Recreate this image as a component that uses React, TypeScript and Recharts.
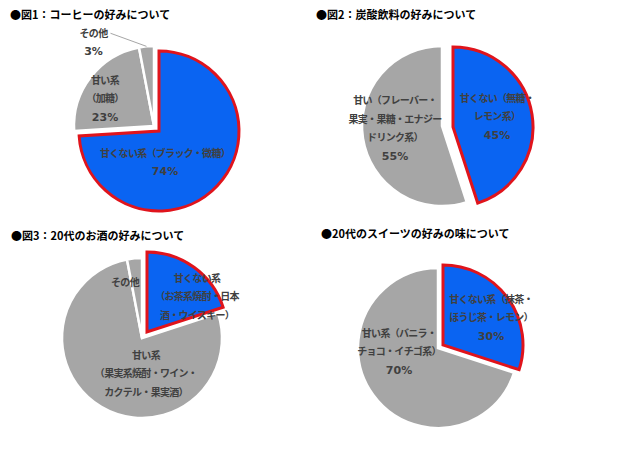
import React from "react";
import { PieChart, Pie, Cell } from "recharts";

const BLUE = "#0a64f2";
const RED = "#e0141c";
const GRAY = "#a6a6a6";
const INK = "#404040";

// 図1 coffee
const coffeeNames = ["甘くない系（ブラック・微糖）", "甘い系（加糖）", "その他"];
const coffeeValues = [74, 23, 3];
const coffeeLabels = [["甘くない系（ブラック・微糖）"], ["甘い系", "（加糖）"], ["その他"]];

// 図2 soda
const sodaNames = ["甘くない（無糖・レモン系）", "甘い（フレーバー・果実・果糖・エナジードリンク系）"];
const sodaValues = [45, 55];
const sodaLabels = [
  ["甘くない（無糖・", "レモン系）"],
  ["甘い（フレーバー・", "果実・果糖・エナジー", "ドリンク系）"],
];

// 図3 alcohol
const sakeNames = [
  "甘くない系（お茶系焼酎・日本酒・ウイスキー）",
  "甘い系（果実系焼酎・ワイン・カクテル・果実酒）",
  "その他",
];
const sakeValues = [20, 77, 3];
const sakeLabels = [
  ["甘くない系", "（お茶系焼酎・日本", "酒・ウイスキー）"],
  ["甘い系", "（果実系焼酎・ワイン・", "カクテル・果実酒）"],
  ["その他"],
];

// sweets
const sweetsNames = ["甘くない系（抹茶・ほうじ茶・レモン）", "甘い系（バニラ・チョコ・イチゴ系）"];
const sweetsValues = [30, 70];
const sweetsLabels = [
  ["甘くない系（抹茶・", "ほうじ茶・レモン）"],
  ["甘い系（バニラ・", "チョコ・イチゴ系）"],
];

const RADIAN = Math.PI / 180;
const LINE_H = 18.5;
const labelFont = "'DejaVu Sans', 'Noto Sans CJK JP', sans-serif";

interface PanelProps {
  title: string;
  names: string[];
  values: number[];
  labels: string[][];
  showPercent: boolean;
  left: number;
  top: number;
  titleX: number;
  titleY: number;
  blueCenter: [number, number];
  grayCenter: [number, number];
  labelOffsets: [number, number][];
  leaderIndex?: number;
}

function makeLabel(layer: "blue" | "gray", p: PanelProps) {
  return (props: any) => {
    const { index, cx, cy, value, midAngle, outerRadius } = props;
    const isBlue = index === 0;
    if ((layer === "blue") !== isBlue) return null;
    const [dx, dy] = p.labelOffsets[index];
    const lines = [...p.labels[index]];
    if (p.showPercent) lines.push(`${value}%`);
    const x = cx + dx;
    const y0 = cy + dy - ((lines.length - 1) * LINE_H) / 2;
    let leader = null;
    if (p.leaderIndex === index) {
      const ex = cx + outerRadius * Math.cos(-midAngle * RADIAN);
      const ey = cy + outerRadius * Math.sin(-midAngle * RADIAN);
      leader = <line x1={x + 17} y1={y0} x2={ex} y2={ey} stroke={GRAY} strokeWidth={1} />;
    }
    return (
      <g key={`lbl-${layer}-${index}`}>
        {leader}
        {lines.map((l, i) => {
          const isPct = l.endsWith("%");
          return (
            <text
              key={i}
              x={x}
              y={y0 + i * LINE_H}
              textAnchor="middle"
              dominantBaseline="central"
              fill={INK}
              fontFamily={labelFont}
              fontSize={isPct ? 11 : 10}
              fontWeight="bold"
              letterSpacing={isPct ? 0 : -0.7}
            >
              {l}
            </text>
          );
        })}
      </g>
    );
  };
}

function Panel(p: PanelProps) {
  const data = p.names.map((name, i) => ({ name, value: p.values[i] }));
  return (
    <div style={{ position: "absolute", left: p.left, top: p.top, width: 320, height: 228 }}>
      <PieChart width={320} height={228} margin={{ top: 0, right: 0, bottom: 0, left: 0 }}>
        {/* gray slices */}
        <Pie
          data={data}
          dataKey="value"
          nameKey="name"
          cx={p.grayCenter[0]}
          cy={p.grayCenter[1]}
          outerRadius={80}
          startAngle={90}
          endAngle={-270}
          isAnimationActive={false}
          labelLine={false}
          label={makeLabel("gray", p)}
        >
          {data.map((d, i) => (
            <Cell
              key={d.name}
              fill={i === 0 ? "none" : GRAY}
              stroke={i === 0 ? "none" : "#ffffff"}
              strokeWidth={i === 0 ? 0 : 2.5}
            />
          ))}
        </Pie>
        {/* highlighted slice, pulled out */}
        <Pie
          data={data}
          dataKey="value"
          nameKey="name"
          cx={p.blueCenter[0]}
          cy={p.blueCenter[1]}
          outerRadius={80}
          startAngle={90}
          endAngle={-270}
          isAnimationActive={false}
          labelLine={false}
          label={makeLabel("blue", p)}
        >
          {data.map((d, i) => (
            <Cell
              key={d.name}
              fill={i === 0 ? BLUE : "none"}
              stroke={i === 0 ? RED : "none"}
              strokeWidth={i === 0 ? 3 : 0}
            />
          ))}
        </Pie>
      </PieChart>
      <div
        style={{
          position: "absolute",
          left: p.titleX,
          top: p.titleY,
          fontFamily: "'Noto Sans CJK JP', sans-serif",
          fontSize: 11,
          fontWeight: "bold",
          lineHeight: "12px",
          color: "#000",
          whiteSpace: "nowrap",
        }}
      >
        {p.title}
      </div>
    </div>
  );
}

export default function App() {
  return (
    <div
      style={{
        position: "absolute",
        left: 0,
        top: 0,
        width: 640,
        height: 456,
        background: "#fff",
        overflow: "hidden",
      }}
    >
      <Panel
        title="●図1：コーヒーの好みについて"
        names={coffeeNames}
        values={coffeeValues}
        labels={coffeeLabels}
        showPercent
        left={0}
        top={0}
        titleX={10}
        titleY={8}
        blueCenter={[159, 131]}
        grayCenter={[154, 126]}
        labelOffsets={[
          [6, 31.5],
          [-49, -27.5],
          [-60.5, -83.5],
        ]}
        leaderIndex={2}
      />
      <Panel
        title="●図2：炭酸飲料の好みについて"
        names={sodaNames}
        values={sodaValues}
        labels={sodaLabels}
        showPercent
        left={320}
        top={0}
        titleX={-4}
        titleY={8}
        blueCenter={[133, 127]}
        grayCenter={[122, 126]}
        labelOffsets={[
          [44, -10.5],
          [-47, 2.5],
        ]}
      />
      <Panel
        title="●図3：20代のお酒の好みについて"
        names={sakeNames}
        values={sakeValues}
        labels={sakeLabels}
        showPercent={false}
        left={0}
        top={228}
        titleX={11}
        titleY={1}
        blueCenter={[147, 104]}
        grayCenter={[142, 110]}
        labelOffsets={[
          [50, -35.5],
          [4, 35.5],
          [-17, -56],
        ]}
      />
      <Panel
        title="●20代のスイーツの好みの味について"
        names={sweetsNames}
        values={sweetsValues}
        labels={sweetsLabels}
        showPercent
        left={320}
        top={228}
        titleX={1}
        titleY={-1}
        blueCenter={[123, 117]}
        grayCenter={[118, 120]}
        labelOffsets={[
          [48, -27.5],
          [-39, 3.5],
        ]}
      />
    </div>
  );
}
